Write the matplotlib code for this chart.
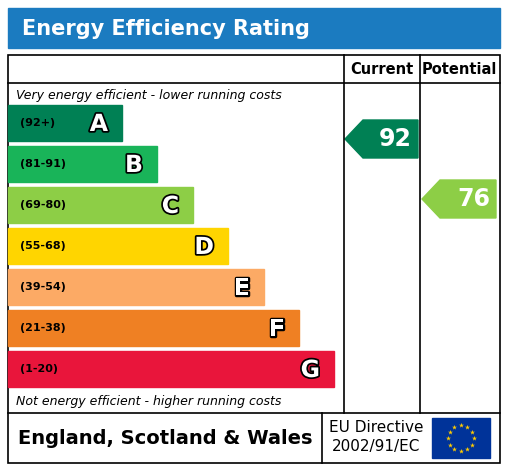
import numpy as np
import matplotlib.pyplot as plt
import matplotlib.patheffects as pe
from matplotlib.patches import Rectangle, Polygon

letters = ['A', 'B', 'C', 'D', 'E', 'F', 'G']
ranges = ['(92+)', '(81-91)', '(69-80)', '(55-68)', '(39-54)', '(21-38)', '(1-20)']
lows = [92, 81, 69, 55, 39, 21, 1]
colors = ['#008054', '#19b459', '#8dce46', '#ffd500', '#fcaa65', '#ef8023', '#e9153b']
bar_ends = [122, 157, 193, 228, 264, 299, 334]
current = 92
potential = 76

W, H = 509, 467
fig = plt.figure(figsize=(W / 100, H / 100), dpi=100)
ax = fig.add_axes([0, 0, 1, 1])
ax.set_xlim(0, W)
ax.set_ylim(H, 0)
ax.axis('off')

outline = [pe.withStroke(linewidth=2.5, foreground='black')]

# title bar
ax.add_patch(Rectangle((8, 8), 492, 40, color='#1b7bc0'))
ax.text(22, 29, 'Energy Efficiency Rating', color='white', fontsize=15,
        fontweight='bold', va='center')

# table frame
lw = 1.2
ax.add_patch(Rectangle((8, 55), 492, 408, fill=False, lw=lw, ec='black'))
ax.plot([8, 500], [83, 83], color='black', lw=lw)
ax.plot([8, 500], [413, 413], color='black', lw=lw)
for x in (344, 420):
    ax.plot([x, x], [55, 413], color='black', lw=lw)
ax.text(382, 69, 'Current', fontsize=10.5, fontweight='bold', ha='center', va='center')
ax.text(459, 69, 'Potential', fontsize=10.5, fontweight='bold', ha='center', va='center')
ax.text(16, 95, 'Very energy efficient - lower running costs', fontsize=9,
        style='italic', va='center')
ax.text(16, 401, 'Not energy efficient - higher running costs', fontsize=9,
        style='italic', va='center')

top0, step, bh = 105, 41, 36
for i, (l, r, c, e) in enumerate(zip(letters, ranges, colors, bar_ends)):
    y = top0 + i * step
    ax.add_patch(Rectangle((8, y), e - 8, bh, color=c))
    ax.text(20, y + bh / 2, r, fontsize=8, fontweight='bold', va='center')
    ax.text(e - 14, y + bh / 2 + 1, l, fontsize=17, fontweight='bold', color='white',
            ha='right', va='center', path_effects=outline)


def band(v):
    return next(i for i, lo in enumerate(lows) if v >= lo)


def arrow(v, x0, x1, yoff):
    i = band(v)
    y = top0 + i * step + yoff
    pts = [(x0, y + bh / 2 + 1), (x0 + 18, y), (x1, y), (x1, y + bh + 2), (x0 + 18, y + bh + 2)]
    ax.add_patch(Polygon(pts, color=colors[i]))
    ax.text(x1 - 6, y + bh / 2 + 1, str(v), fontsize=17, fontweight='bold',
            color='white', ha='right', va='center')


arrow(current, 345, 418, 15)
arrow(potential, 422, 496, -7)

# footer
ax.text(18, 438, 'England, Scotland & Wales', fontsize=14, fontweight='bold', va='center')
ax.plot([322, 322], [413, 463], color='black', lw=lw)
ax.text(376, 428, 'EU Directive', fontsize=11, ha='center', va='center')
ax.text(376, 447, '2002/91/EC', fontsize=11, ha='center', va='center')
ax.add_patch(Rectangle((432, 418), 58, 40, color='#003399'))
ang = 2 * np.pi * np.arange(12) / 12
ax.scatter(461 + 13 * np.cos(ang), 438 + 13 * np.sin(ang), marker='*', s=14,
           color='#ffcc00', lw=0)

fig.savefig('out.png', dpi=100)
